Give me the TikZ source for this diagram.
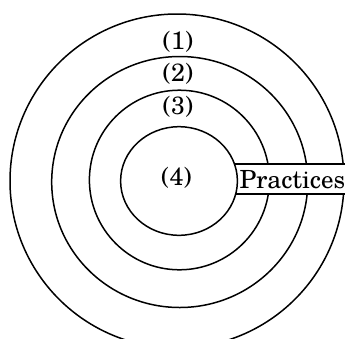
\documentclass[tikz,border=0pt]{standalone}
\usepackage{fontspec}
\setmainfont{TeX Gyre Schola}
\begin{document}
\begin{tikzpicture}[x=1pt,y=-1pt,
  ring/.style={line width=1.5pt},
  lbl/.style={inner sep=0pt, font=\fontsize{25}{29}\selectfont}]
\useasboundingbox (0,0) rectangle (345,338);
\clip (0,0) rectangle (345,338);
\coordinate (c1) at (177,181);
\coordinate (c2) at (179.7,182);
\coordinate (c3) at (179.4,180);
\coordinate (c4) at (179,181);
\draw[ring] (c1) ellipse [x radius=167, y radius=167];
\draw[ring] (c2) ellipse [x radius=128, y radius=125.5];
\draw[ring] (c3) ellipse [x radius=90, y radius=89.8];
% Practices band
\coordinate (bt) at (179,164);
\coordinate (bb) at (179,194);
\coordinate (et) at (350,164);
\coordinate (eb) at (350,194);
\fill[white] (bt) rectangle (eb);
\draw[ring] (bt) -- (et) (bb) -- (eb);
\filldraw[ring, fill=white] (c4) ellipse [x radius=58.4, y radius=54.3];
\node[lbl] (l1) at (178,41.7) {(1)};
\node[lbl] (l2) at (178,74) {(2)};
\node[lbl] (l3) at (178,106.7) {(3)};
\node[lbl] (l4) at (176.5,177.5) {(4)};
\node[lbl, anchor=base west] (pr) at (239.5,188) {Practices};
\end{tikzpicture}
\end{document}
